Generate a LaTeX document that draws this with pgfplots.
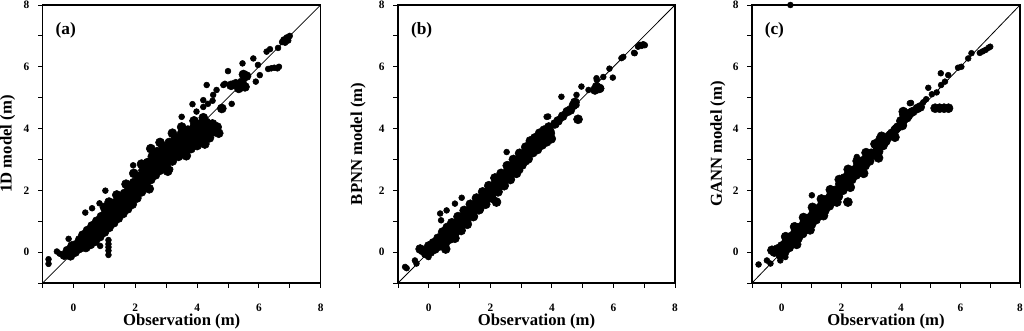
\documentclass[border=0pt]{standalone}
\usepackage{pgfplots}
\pgfplotsset{compat=1.18}
\usepackage{fontspec}
\setmainfont{Liberation Serif}

\pgfplotsset{
 myax/.style={
  scale only axis,
  height=208.5pt,
  xmin=-1,xmax=8,ymin=-1,ymax=8,
  xtick={0,2,4,6,8}, ytick={0,2,4,6,8},
  minor xtick={-1,1,3,5,7}, minor ytick={-1,1,3,5,7},
  tick align=outside,
  tick pos=left,
  major tick length=3.5pt, minor tick length=3.5pt,
  axis line style={line width=1pt},
  tick style={black, line width=0.7pt},
  tick label style={font=\fontsize{8.5}{9}\selectfont\bfseries},
  /pgf/number format/assume math mode=true,
  label style={font=\fontsize{12.5}{14}\selectfont\bfseries},
  xticklabel style={yshift=-9pt},
  yticklabel style={xshift=-3pt},
  xlabel={Observation (m)},
  xlabel style={at={(axis description cs:0.5,-0.14)},anchor=center},
 },
 sm/.style={only marks, mark=*, mark size=2.2pt, black},
 bg/.style={only marks, mark=*, mark size=3.4pt, black},
 diag/.style={black, line width=0.6pt, no marks},
}

\begin{document}
\begin{tikzpicture}
\useasboundingbox (0,0) rectangle (768pt,247.5pt);

% ---------------- (a) ----------------
\begin{axis}[myax, width=208.5pt, at={(32pt,35.25pt)}, anchor=south west,
  ylabel={1D model (m)},
  ylabel style={at={(axis description cs:-0.126,0.5)},anchor=center}]
\addplot[diag] coordinates {(-1,-1) (8,8)};
\addplot[bg] table {
x y
-0.30 -0.10
-0.20 0.05
-0.10 -0.12
-0.05 0.20
0.05 0.00
0.10 0.25
0.15 0.10
0.20 0.40
0.25 0.15
0.30 0.55
0.35 0.30
0.40 0.15
0.45 0.70
0.50 0.45
0.55 0.25
0.60 0.85
0.65 0.60
0.70 0.35
0.75 1.00
0.80 0.75
0.85 0.50
0.90 1.15
0.95 0.90
1.00 0.65
1.05 1.30
1.10 1.05
1.15 0.80
1.20 1.45
1.25 1.20
1.30 0.95
1.35 1.60
1.40 1.35
1.45 1.10
1.50 1.75
1.55 1.50
1.60 1.25
1.65 1.90
1.70 1.65
1.75 1.40
1.80 2.05
1.85 1.80
1.90 1.55
1.95 2.25
2.00 2.00
2.05 1.75
2.10 2.45
2.15 2.20
2.20 1.95
2.25 2.65
2.30 2.40
2.35 2.15
2.40 2.90
2.45 2.60
2.50 2.35
2.55 3.10
2.60 2.80
2.65 2.50
2.70 3.25
2.75 2.95
2.80 2.65
2.90 3.40
2.95 3.10
3.00 2.80
3.10 3.55
3.15 3.25
3.20 2.95
3.30 3.70
3.35 3.40
3.40 3.10
3.50 3.85
3.55 3.55
3.60 3.25
3.70 3.95
3.75 3.65
3.80 3.35
3.90 4.05
3.95 3.75
4.00 3.45
4.10 4.15
4.15 3.85
4.20 3.60
4.30 4.20
4.35 3.95
4.40 3.70
4.50 4.15
4.55 3.90
4.65 4.05
4.70 3.85
4.80 4.65
5.35 5.30
5.45 5.50
5.55 5.35
5.60 5.70
5.50 5.75
5.25 5.45
5.10 5.40
0.33 0.40
0.48 0.55
0.63 0.70
0.78 0.85
0.93 1.00
1.08 1.15
1.23 1.30
1.38 1.45
1.53 1.60
1.68 1.75
1.83 1.90
1.98 2.10
2.13 2.30
2.28 2.50
2.43 2.73
2.58 2.95
2.73 3.10
2.93 3.25
3.13 3.40
3.33 3.55
3.53 3.70
3.73 3.80
3.93 3.90
4.13 4.00
4.33 4.08
4.53 4.02
0.68 0.48
0.83 0.63
0.98 0.78
1.13 0.93
1.28 1.08
1.43 1.23
1.58 1.38
1.73 1.53
1.88 1.68
2.03 1.88
2.18 2.08
2.33 2.28
2.48 2.53
2.63 2.68
2.78 2.80
2.98 2.95
3.18 3.10
3.38 3.25
3.58 3.40
3.78 3.50
3.98 3.60
4.18 3.72
4.38 3.83
2.45 2.05
3.05 2.62
3.65 3.12
4.25 3.50
1.00 1.45
1.15 1.62
1.40 1.85
1.70 2.20
1.95 2.55
2.20 2.85
2.50 3.35
2.80 3.55
3.20 3.85
3.50 4.05
3.90 4.25
4.20 4.35
};
\addplot[sm] table {
x y
-0.81 -0.23
-0.81 -0.38
-0.54 0.02
-0.45 -0.05
-0.16 0.43
0.38 1.28
0.60 1.42
0.84 1.58
1.03 1.99
1.13 0.39
1.13 0.26
1.13 0.16
1.13 0.05
1.13 -0.09
0.86 0.20
1.93 2.81
3.13 2.68
3.50 4.38
3.85 4.79
4.20 4.92
4.31 5.41
4.52 5.09
4.63 5.25
4.85 5.41
4.90 5.45
5.00 5.86
5.12 4.80
5.47 6.11
5.82 6.27
5.90 5.52
5.97 6.06
6.03 5.73
6.25 6.49
6.36 6.57
6.30 5.93
6.40 5.95
6.50 5.97
6.60 5.95
6.65 6.00
6.62 6.61
6.75 6.80
6.80 6.88
6.85 6.78
6.90 6.95
6.95 6.85
7.00 7.00
6.95 6.92
3.98 4.55
4.20 4.70
4.35 4.80
4.50 4.90
};
\node[anchor=north west, font=\fontsize{13}{15}\selectfont\bfseries] at (rel axis cs:0.03,0.955) {(a)};
\end{axis}

% ---------------- (b) ----------------
\begin{axis}[myax, width=207.75pt, at={(298.5pt,35.25pt)}, anchor=south west,
  ylabel={BPNN model (m)},
  ylabel style={at={(axis description cs:-0.144,0.5)},anchor=center}]
\addplot[diag] coordinates {(-1,-1) (8,8)};
\addplot[bg] table {
x y
-0.28 0.10
-0.20 0.05
-0.10 -0.05
0.00 0.20
0.05 0.00
0.15 0.30
0.20 0.10
0.30 0.45
0.35 0.20
0.45 0.65
0.50 0.35
0.55 0.10
0.60 0.80
0.65 0.50
0.75 0.95
0.80 0.65
0.85 0.45
0.95 1.15
1.00 0.85
1.05 0.70
1.15 1.35
1.20 1.05
1.25 0.90
1.35 1.55
1.40 1.30
1.45 1.15
1.55 1.75
1.60 1.50
1.65 1.40
1.75 1.95
1.80 1.70
1.85 1.55
1.95 2.15
2.00 1.90
2.05 1.75
2.15 2.40
2.20 2.15
2.25 1.95
2.35 2.55
2.40 2.30
2.45 2.15
2.55 2.80
2.60 2.55
2.65 2.35
2.75 3.00
2.80 2.75
2.85 2.55
2.95 3.20
3.00 2.95
3.10 3.10
3.15 3.40
3.20 3.20
3.30 3.60
3.35 3.35
3.45 3.70
3.50 3.50
3.60 3.85
3.65 3.65
3.75 3.95
3.80 3.75
3.90 4.05
3.95 3.85
4.10 4.15
4.20 4.25
4.35 4.40
4.50 4.55
4.60 4.60
4.70 4.75
4.75 4.85
2.20 1.62
4.85 4.30
5.40 5.25
5.55 5.30
5.45 5.35
0.33 0.32
0.48 0.52
0.63 0.67
0.78 0.82
0.98 1.02
1.18 1.22
1.38 1.42
1.58 1.62
1.78 1.82
1.98 2.02
2.18 2.27
2.38 2.42
2.58 2.67
2.78 2.87
2.98 3.07
3.18 3.27
3.33 3.47
3.48 3.57
3.63 3.72
3.78 3.82
3.93 3.92
0.53 0.27
0.68 0.42
0.83 0.57
1.03 0.77
1.23 0.97
1.43 1.17
1.63 1.37
1.83 1.57
2.03 1.77
2.23 2.02
2.43 2.17
2.63 2.42
2.83 2.62
3.03 2.82
3.23 3.02
3.38 3.22
3.53 3.32
3.68 3.47
3.83 3.57
3.98 3.67
};
\addplot[sm] table {
x y
-0.77 -0.48
-0.72 -0.52
-0.45 -0.27
-0.40 -0.37
-0.01 -0.16
0.37 1.25
0.40 1.03
0.58 1.35
0.85 1.57
1.07 1.76
2.53 3.24
2.97 2.65
3.18 2.92
3.83 4.38
4.31 5.03
4.80 5.09
4.96 5.36
4.80 4.76
4.53 4.55
3.88 4.39
5.19 5.25
5.45 5.63
5.46 5.57
5.67 5.67
5.60 5.30
5.87 5.94
5.98 5.65
6.26 6.28
6.32 6.32
6.67 6.45
6.69 6.44
6.80 6.65
6.86 6.71
6.92 6.68
6.97 6.73
7.02 6.70
};
\node[anchor=north west, font=\fontsize{13}{15}\selectfont\bfseries] at (rel axis cs:0.03,0.955) {(b)};
\end{axis}

% ---------------- (c) ----------------
\begin{axis}[myax, width=201pt, at={(564pt,35.25pt)}, anchor=south west, clip=false,
  ylabel={GANN model (m)},
  ylabel style={at={(axis description cs:-0.127,0.5)},anchor=center}]
\addplot[diag] coordinates {(-1,-1) (8,8)};
\addplot[bg] table {
x y
-0.33 0.06
-0.25 0.00
-0.15 0.10
-0.05 -0.10
0.00 0.20
0.10 0.00
0.15 0.35
0.25 0.15
0.30 0.50
0.40 0.30
0.45 0.65
0.55 0.45
0.60 0.80
0.70 0.60
0.75 0.95
0.85 0.75
0.90 1.10
1.00 0.90
1.05 1.25
1.15 1.05
1.20 1.40
1.30 1.20
1.35 1.55
1.45 1.35
1.50 1.70
1.60 1.50
1.65 1.85
1.75 1.65
1.80 2.00
1.90 1.80
1.95 2.20
2.05 2.00
2.10 2.40
2.20 2.20
2.25 2.55
2.35 2.35
2.40 2.65
2.50 2.50
2.55 2.80
2.65 2.65
2.70 2.95
2.80 2.80
2.85 3.05
2.95 2.95
3.00 3.20
3.10 3.15
3.20 3.40
3.25 3.25
3.30 3.65
3.35 3.75
3.40 3.45
3.50 3.60
3.60 3.75
3.70 3.85
3.80 3.95
3.90 4.05
4.00 4.25
4.05 4.10
4.10 4.45
4.20 4.35
4.30 4.50
4.40 4.55
4.55 4.65
4.65 4.70
2.22 1.62
5.15 4.66
5.30 4.66
5.45 4.66
5.60 4.66
0.05 0.10
0.20 0.25
0.35 0.40
0.50 0.55
0.65 0.70
0.80 0.85
0.95 1.00
1.10 1.15
1.25 1.30
1.40 1.45
1.55 1.60
1.70 1.75
1.85 1.90
2.00 2.10
2.15 2.30
2.30 2.45
2.45 2.58
2.60 2.73
2.75 2.88
2.90 3.00
3.05 3.18
3.25 3.50
3.45 3.55
3.65 3.80
3.85 4.00
4.05 4.20
4.25 4.42
0.13 0.50
0.43 0.82
0.73 1.12
1.03 1.45
1.33 1.72
1.63 2.02
1.93 2.35
2.23 2.68
2.53 2.95
2.83 3.22
3.13 3.50
4.08 4.55
0.50 0.25
0.95 0.72
1.40 1.18
1.85 1.62
2.30 2.10
2.75 2.55
3.25 3.05
3.80 3.72
};
\addplot[sm] table {
x y
0.29 8.00
-0.78 -0.40
-0.50 -0.27
-0.38 -0.37
-0.05 -0.27
0.12 -0.16
1.01 1.84
2.52 3.08
4.34 4.83
4.30 4.82
4.75 4.85
4.85 4.95
4.92 5.32
5.04 5.11
5.20 5.17
5.34 5.79
5.48 5.52
5.59 5.73
5.35 5.41
5.92 5.97
6.03 6.00
6.26 6.27
6.37 6.44
6.65 6.45
6.75 6.50
6.85 6.55
6.95 6.62
7.00 6.65
};
\node[anchor=north west, font=\fontsize{13}{15}\selectfont\bfseries] at (rel axis cs:0.03,0.955) {(c)};
\end{axis}
\end{tikzpicture}
\end{document}
